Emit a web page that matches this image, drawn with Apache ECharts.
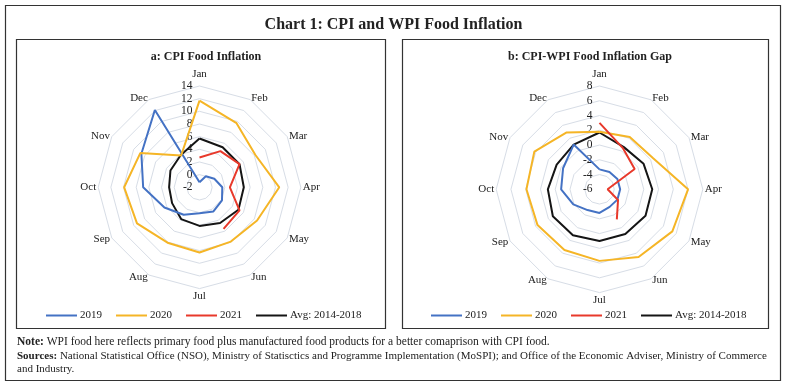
<!DOCTYPE html>
<html>
<head>
<meta charset="utf-8">
<script src="https://cdn.jsdelivr.net/npm/echarts@6/dist/echarts.min.js"></script>
<style>
html,body{margin:0;padding:0;background:#fff;}
#chart{width:787px;height:387px;}
</style>
</head>
<body>
<div id="chart"></div>
<script>
// ---------- data ----------
const months = ['Jan','Feb','Mar','Apr','May','Jun','Jul','Aug','Sep','Oct','Nov','Dec'];
const seriesNames = ['2019','2020','2021','Avg: 2014-2018'];

// Panel a: CPI Food Inflation (per cent)
const cpi2019 = [-1.2, 0.0, 0.7, 1.6, 2.1, 2.4, 2.1, 3.0, 4.4, 6.9, 8.6, 12.1];
const cpi2020 = [11.7, 9.7, 8.2, 10.6, 8.5, 7.9, 8.3, 8.1, 9.4, 9.9, 8.8, 3.8];
const cpi2021 = [2.7, 4.6, 5.3, 2.8, 5.3, 5.6];
const cpiAvg  = [5.7, 5.3, 5.3, 5.0, 5.1, 4.5, 4.1, 3.8, 3.0, 2.8, 3.3, 3.9];
const cpiTicks = [-2, 0, 2, 4, 6, 8, 10, 12, 14];

// Panel b: CPI-WPI Food Inflation Gap (percentage points)
const gap2019 = [-3.3, -3.3, -3.2, -3.2, -3.2, -3.25, -2.8, -2.75, -1.9, -0.8, -0.3, 1.0];
const gap2020 = [1.8, 2.2, 2.4, 6.0, 5.4, 4.6, 3.7, 3.5, 3.7, 3.9, 4.2, 2.9];
const gap2021 = [3.0, 0.4, -0.5, -4.9, -3.1, -1.3];
const gapAvg  = [1.7, 0.6, 0.9, 1.15, 1.2, 1.0, 1.0, 1.2, 1.3, 1.0, 0.7, 1.0];
const gapTicks = [-6, -4, -2, 0, 2, 4, 6, 8];

// ---------- styling ----------
const FONT = "'Liberation Serif', 'DejaVu Serif', serif";
const colors = ['#4472C4', '#F5B526', '#E8392B', '#151515'];
const ringColor = '#D7DDE6';

function radarFor(center, radius, ticks) {
  const min = ticks[0], max = ticks[ticks.length - 1];
  // ECharts radar runs counter-clockwise; list months Jan, Dec, Nov ... Feb to get clockwise layout
  const order = [0].concat(months.map((m, i) => months.length - 1 - i).slice(0, months.length - 1));
  const indicator = order.map((idx, k) => {
    const o = { name: months[idx], min: min, max: max };
    if (k === 0) {
      o.axisLabel = { show: true, color: '#222', fontSize: 11.5, fontFamily: FONT, margin: 7, showMinLabel: true, showMaxLabel: true };
    }
    return o;
  });
  return {
    center: center, radius: radius, startAngle: 90, shape: 'polygon',
    splitNumber: ticks.length - 1,
    indicator: indicator,
    axisName: { color: '#222', fontSize: 11, fontFamily: FONT },
    nameGap: 2,
    axisLine: { show: false },
    axisTick: { show: false },
    axisLabel: { show: false },
    splitLine: { lineStyle: { color: ringColor, width: 1 } },
    splitArea: { show: false }
  };
}

function loop(vals) {
  const pts = vals.map((v, i) => [v, i]);
  if (vals.length === months.length) pts.push([vals[0], months.length]);
  return pts;
}

function lines(polarIndex, arrays) {
  return arrays.map((vals, k) => ({
    name: seriesNames[k], type: 'line', coordinateSystem: 'polar', polarIndex: polarIndex,
    data: loop(vals), symbol: 'none', smooth: false, z: 5 + (k === 3 ? 0 : 1),
    lineStyle: { color: colors[k], width: 2 }, itemStyle: { color: colors[k] },
    emphasis: { disabled: true }, animation: false
  }));
}

const centers = [[199.5, 187.3], [599.5, 189.3]];
const radii = [101.3, 103.3];
const tickSets = [cpiTicks, gapTicks];

const legendBase = {
  data: seriesNames, icon: 'rect', itemWidth: 31, itemHeight: 2, itemGap: 14, padding: 0,
  textStyle: { color: '#222', fontSize: 11, fontFamily: FONT, padding: [0, 0, 0, -2] },
  selectedMode: false, top: 310
};

const option = {
  animation: false,
  backgroundColor: '#fff',
  color: colors,
  title: [
    { text: 'Chart 1: CPI and WPI Food Inflation', left: 'center', top: 12,
      textStyle: { fontFamily: FONT, fontSize: 16, fontWeight: 'bold', color: '#222' } },
    { text: 'a: CPI Food Inflation', left: 201, top: 46, textAlign: 'center',
      textStyle: { fontFamily: FONT, fontSize: 12, fontWeight: 'bold', color: '#222' } },
    { text: 'b: CPI-WPI Food Inflation Gap', left: 585, top: 46, textAlign: 'center',
      textStyle: { fontFamily: FONT, fontSize: 12, fontWeight: 'bold', color: '#222' } }
  ],
  legend: [
    Object.assign({}, legendBase, { left: 46 }),
    Object.assign({}, legendBase, { left: 431 })
  ],
  radar: [radarFor(centers[0], radii[0], cpiTicks), radarFor(centers[1], radii[1], gapTicks)],
  polar: [
    { center: centers[0], radius: radii[0] },
    { center: centers[1], radius: radii[1] }
  ],
  angleAxis: [0, 1].map(p => ({
    polarIndex: p, type: 'value', min: 0, max: months.length, startAngle: 90, clockwise: true,
    show: false
  })),
  radiusAxis: [0, 1].map(p => ({
    polarIndex: p, type: 'value', min: tickSets[p][0], max: tickSets[p][tickSets[p].length - 1],
    show: false
  })),
  series: lines(0, [cpi2019, cpi2020, cpi2021, cpiAvg]).concat(lines(1, [gap2019, gap2020, gap2021, gapAvg])),
  graphic: [
    { type: 'rect', shape: { x: 5.5, y: 5.5, width: 775, height: 375 }, style: { fill: 'none', stroke: '#333', lineWidth: 1.2 }, silent: true },
    { type: 'rect', shape: { x: 16.5, y: 39.5, width: 369, height: 289 }, style: { fill: 'none', stroke: '#333', lineWidth: 1.2 }, silent: true },
    { type: 'rect', shape: { x: 402.5, y: 39.5, width: 366, height: 289 }, style: { fill: 'none', stroke: '#333', lineWidth: 1.2 }, silent: true },
    { type: 'text', left: 17, top: 336, silent: true,
      style: { text: '{b|Note:} WPI food here reflects primary food plus manufactured food products for a better comaprison with CPI food.',
        fontFamily: FONT, fontSize: 11.5, fill: '#222',
        rich: { b: { fontFamily: FONT, fontSize: 11.5, fontWeight: 'bold', fill: '#222' } } } },
    { type: 'text', left: 17, top: 350, silent: true,
      style: { text: '{b|Sources:} National Statistical Office (NSO), Ministry of Statisctics and Programme Implementation (MoSPI); and Office of the Economic Adviser, Ministry of Commerce\nand Industry.',
        fontFamily: FONT, fontSize: 11, fill: '#222', lineHeight: 13,
        rich: { b: { fontFamily: FONT, fontSize: 11, fontWeight: 'bold', fill: '#222', lineHeight: 13 } } } }
  ]
};

const chart = echarts.init(document.getElementById('chart'), null, { renderer: 'canvas' });
chart.setOption(option);
</script>
</body>
</html>
